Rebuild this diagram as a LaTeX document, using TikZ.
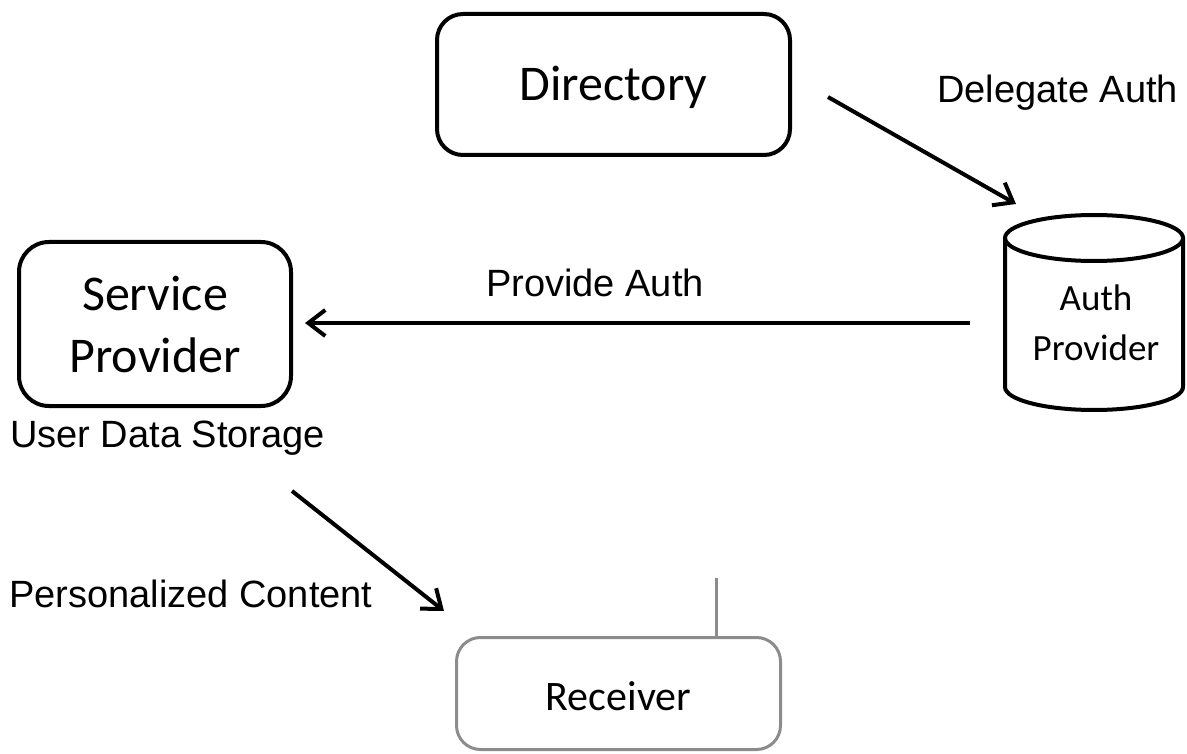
\documentclass[tikz,border=0pt]{standalone}
\usepackage{fontspec}
\setmainfont{Carlito}
\newfontfamily\arialfont{Liberation Sans}
\usetikzlibrary{arrows.meta}
\definecolor{recvgray}{RGB}{140,140,140}
\tikzset{
  box/.style={draw, line width=4pt, rounded corners=26pt, inner sep=0pt},
  boxtext/.style={font=\fontsize{50}{62}\selectfont},
  lbl/.style={anchor=base west, inner sep=0pt, font=\arialfont\fontsize{38}{44}\selectfont},
  flow/.style={line width=4pt, -{Straight Barb[length=17pt,width=26pt]}},
}
\begin{document}
\begin{tikzpicture}[x=1pt,y=-1pt]
\useasboundingbox (0,0) rectangle (1187,754);
% boxes
\node[box, boxtext, minimum width=353pt, minimum height=141pt, text height=32pt, text depth=0pt] (dir) at (613.5,84.5) {Directory};
\node[box, boxtext, align=center, rounded corners=30pt, minimum width=272pt, minimum height=164pt] (sp) at (155,324) {Service\\Provider};
\node[box, draw=recvgray, line width=3pt, rounded corners=24pt, font=\fontsize{42}{48}\selectfont, minimum width=324pt, minimum height=112pt, text height=34pt, text depth=0pt] (recv) at (618.5,693.5) {Receiver};
\coordinate (ant) at (716,578);
\draw[recvgray, line width=3pt] (ant) -- (recv.north -| ant);
% cylinder
\node[minimum width=178pt, minimum height=195pt, inner sep=0pt] (auth) at (1094,312.5) {};
\draw[line width=4pt] (1094,238) ellipse [x radius=89, y radius=23];
\draw[line width=4pt] (1005,238) -- (1005,387) arc[start angle=180, end angle=0, x radius=89, y radius=23] -- (1183,238);
\node[anchor=base, align=center, inner sep=0pt, font=\fontsize{37}{50}\selectfont] (authtxt) at (1096,360) {Auth\\Provider};
% labels
\node[lbl] (ldel) at (937,103) {Delegate Auth};
\node[lbl] (lprov) at (486,297) {Provide Auth};
\node[lbl] (luds) at (10,447) {User Data Storage};
\node[lbl] (lpers) at (9,607) {Personalized Content};
% connectors
\coordinate (d1) at (828,97);
\coordinate (d2) at (1016,204);
\coordinate (p1) at (970,323);
\coordinate (p2) at (305,323);
\coordinate (s1) at (292,491);
\coordinate (s2) at (444,611);
\draw[flow] (d1) -- (d2);
\draw[flow] (p1) -- (p2);
\draw[flow] (s1) -- (s2);
\end{tikzpicture}
\end{document}
